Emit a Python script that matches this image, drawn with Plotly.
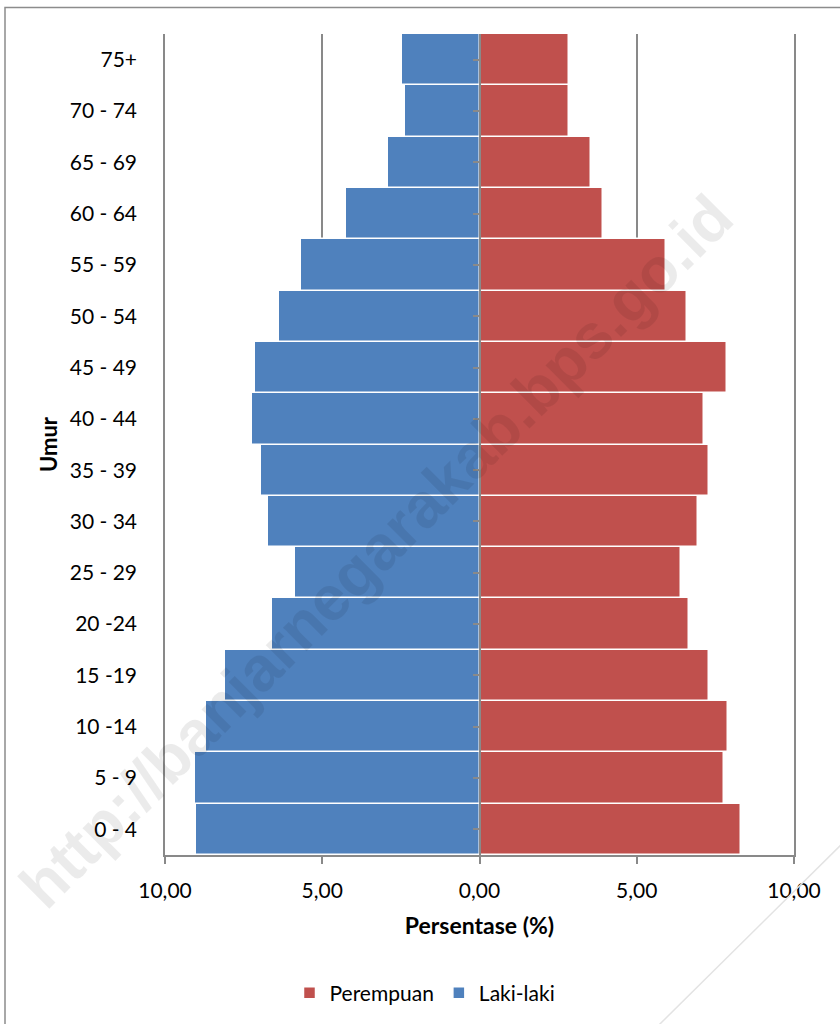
import plotly.graph_objects as go

# ---------------- data ----------------
age_groups = ["0 - 4", "5 - 9", "10 -14", "15 -19", "20 -24", "25 - 29", "30 - 34",
              "35 - 39", "40 - 44", "45 - 49", "50 - 54", "55 - 59", "60 - 64",
              "65 - 69", "70 - 74", "75+"]
laki_laki = [9.02, 9.05, 8.69, 8.10, 6.60, 5.86, 6.74, 6.96, 7.23, 7.13, 6.38,
             5.66, 4.23, 2.90, 2.38, 2.48]
perempuan = [8.33, 7.77, 7.90, 7.31, 6.67, 6.41, 6.96, 7.31, 7.15, 7.86, 6.61,
             5.93, 3.92, 3.53, 2.83, 2.85]
x_tickvals = [-10, -5, 0, 5, 10]
x_ticktext = ["10,00", "5,00", "0,00", "5,00", "10,00"]

# ---------------- layout geometry (body margin removed via post_script) ----------------
W, H = 840, 1024
L = 165
T = 34
R = W - 794
B = H - 856
PW, PH = W - L - R, H - T - B


def px(xs):
    return (xs - L) / PW


def py(ys):
    return (H - B - ys) / PH


BLUE = "#4F81BD"
RED = "#C0504D"
GRID = "#898989"
FONT = "Lato"

fig = go.Figure()
fig.add_trace(go.Bar(
    y=age_groups, x=perempuan, orientation="h", name="Perempuan",
    marker=dict(color=RED, line=dict(color="white", width=1.5)),
    yaxis="y", hovertemplate="%{y}: %{x:.2f}%<extra>Perempuan</extra>",
))
fig.add_trace(go.Bar(
    y=age_groups, x=[-v for v in laki_laki], orientation="h", name="Laki-laki",
    customdata=laki_laki,
    marker=dict(color=BLUE, line=dict(color="white", width=1.5)),
    yaxis="y2", hovertemplate="%{y}: %{customdata:.2f}%<extra>Laki-laki</extra>",
))

fig.update_layout(
    width=W, height=H,
    margin=dict(l=L, r=R, t=T, b=B),
    paper_bgcolor="white", plot_bgcolor="white",
    barmode="overlay", bargap=0,
    font=dict(family=FONT, size=21, color="black"),
    showlegend=True,
    legend=dict(orientation="h", x=px(425), xanchor="center",
                y=py(993), yanchor="middle",
                font=dict(family=FONT, size=21), itemwidth=30,
                traceorder="normal"),
    xaxis=dict(
        range=[-10, 10], tickvals=x_tickvals, ticktext=x_ticktext,
        showgrid=True, gridcolor=GRID, gridwidth=1.5, zeroline=False,
        showline=True, linecolor=GRID, linewidth=1.5,
        ticks="outside", ticklen=7, tickcolor=GRID, tickwidth=1.5,
        ticklabelstandoff=9,
        tickfont=dict(family=FONT, size=21),
        title=dict(text="<b>Persentase (%)</b>", font=dict(family=FONT, size=23),
                   standoff=17),
        fixedrange=True,
    ),
    yaxis=dict(
        type="category", categoryorder="array", categoryarray=age_groups,
        showgrid=False, zeroline=False,
        showline=True, mirror=True, linecolor=GRID, linewidth=1.5,
        ticks="", ticklabelstandoff=22,
        tickfont=dict(family=FONT, size=21),
        title=dict(text="<b>Umur</b>", font=dict(family=FONT, size=22), standoff=6),
        fixedrange=True,
    ),
    yaxis2=dict(
        type="category", categoryorder="array", categoryarray=age_groups,
        overlaying="y", matches="y", anchor="free", position=0.5, side="left",
        showgrid=False, zeroline=False, showticklabels=False,
        showline=True, linecolor=GRID, linewidth=2,
        ticks="outside", ticklen=6, tickcolor=GRID, tickwidth=1.5,
        fixedrange=True,
    ),
)

# outer chart border
fig.add_shape(type="rect", xref="paper", yref="paper",
              x0=px(5), x1=px(870), y0=py(1050), y1=py(7.5),
              line=dict(color="#8C8C8C", width=1.5), fillcolor="rgba(0,0,0,0)",
              layer="below")
# faint diagonal line (bottom right artefact)
fig.add_shape(type="line", xref="paper", yref="paper",
              x0=px(645), y0=py(1040), x1=px(860), y1=py(827),
              line=dict(color="#E3E3E3", width=1.5))

# watermark
fig.add_annotation(text="<b>http://banjarnegarakab.bps.go.id</b>",
                   xref="paper", yref="paper", x=px(376), y=py(552),
                   xanchor="center", yanchor="middle",
                   showarrow=False, textangle=-45,
                   font=dict(family="Liberation Sans", size=63,
                             color="rgba(0,0,0,0.08)"))

fig.write_html("out.html",
               config={"displayModeBar": False},
               post_script="document.body.style.margin='0px';")
